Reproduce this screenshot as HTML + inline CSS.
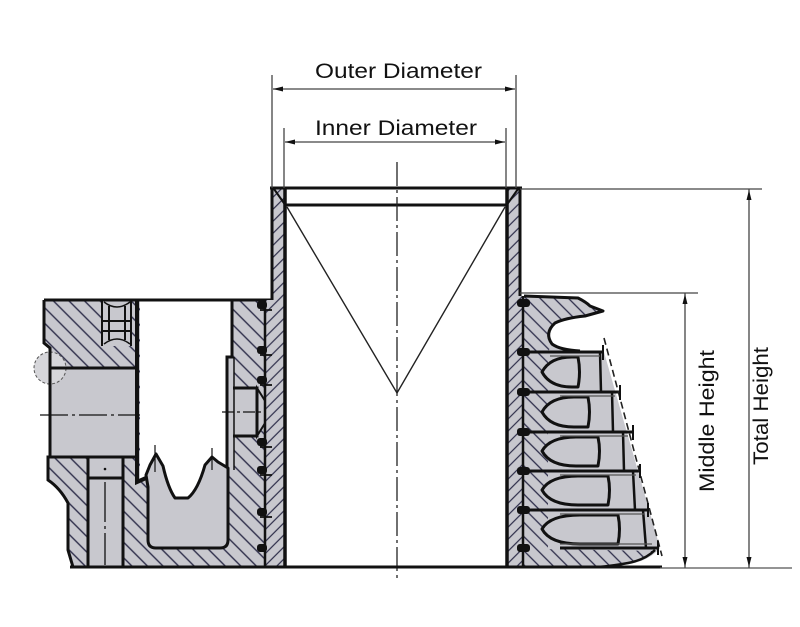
<!DOCTYPE html>
<html><head><meta charset="utf-8"><style>html,body{margin:0;padding:0;background:#fff;}svg{display:block}</style></head>
<body>
<svg width="800" height="627" viewBox="0 0 800 627" xmlns="http://www.w3.org/2000/svg">
<defs>
<pattern id="hb" patternUnits="userSpaceOnUse" width="11" height="11" patternTransform="rotate(-45)">
<rect width="11" height="11" fill="#c8c8ce"/>
<line x1="1" y1="0" x2="1" y2="11" stroke="#2e2e4a" stroke-width="1.4"/>
</pattern>
<pattern id="hr" patternUnits="userSpaceOnUse" width="10" height="10" patternTransform="rotate(-45)">
<rect width="10" height="10" fill="#c8c8ce"/>
<line x1="1" y1="0" x2="1" y2="10" stroke="#2e2e4a" stroke-width="1.3"/>
</pattern>
<pattern id="ht" patternUnits="userSpaceOnUse" width="8.5" height="8.5" patternTransform="rotate(45)">
<rect width="8.5" height="8.5" fill="#c8c8ce"/>
<line x1="1" y1="0" x2="1" y2="8.5" stroke="#2e2e4a" stroke-width="1.2"/>
</pattern>
</defs>
<rect width="800" height="627" fill="#fff"/>

<!-- ===== LEFT BODY ===== -->
<path d="M44,300 L265,300 L265,567 L73,567 L68,550 L68,503 Q60,488 48,480 L48,457 L50,457 L50,348 L44,343 Z" fill="url(#hb)"/>
<rect x="102" y="300" width="30" height="46" fill="#c8c8ce"/>
<path d="M102,300 L102,346 M131,300 L131,346 M109,306 L109,340 M125,306 L125,340 M102,321 L131,321 M102,331 L131,331" stroke="#111" stroke-width="2" fill="none"/>
<path d="M104,302 Q117,312 130,302 M104,344 Q117,334 130,344" stroke="#111" stroke-width="1.5" fill="none"/>
<rect x="50" y="368" width="87" height="89" fill="#c8c8ce"/>
<path d="M140,300 L232,300 L232,357 L227,357 L227,468 L218,462 L212,457 L205,465 Q198,490 188,498 L175,498 Q168,488 163,466 L156,454 L150,465 L146,475 L140,480 Z" fill="#fff"/>
<rect x="227" y="357" width="7" height="110" fill="#c8c8ce"/>
<path d="M146,475 L150,465 L156,454 L163,466 Q168,488 175,498 L188,498 Q198,490 205,465 L212,457 L218,462 L228,468 L228,540 Q228,548 220,548 L156,548 Q148,548 148,540 L148,487 Z" fill="#c8c8ce" stroke="#111" stroke-width="3" stroke-linejoin="round"/>
<line x1="155" y1="445" x2="155" y2="472" stroke="#111" stroke-width="1.2"/>
<line x1="212" y1="448" x2="212" y2="470" stroke="#111" stroke-width="1.2"/>
<rect x="88" y="458" width="35" height="109" fill="#c8c8ce"/>
<path d="M88,458 L88,567 M123,458 L123,567 M88,478 L123,478" stroke="#111" stroke-width="3" fill="none"/>
<line x1="105" y1="482" x2="105" y2="565" stroke="#111" stroke-width="1.3" stroke-dasharray="40 4 3 4"/>
<circle cx="105" cy="469" r="1.3" fill="#111"/>
<rect x="233" y="388" width="24" height="47" fill="#c8c8ce"/>
<path d="M257,388 L272,412 L257,436 Z" fill="#c8c8ce" stroke="#111" stroke-width="2"/>
<path d="M233,388 L257,388 L257,436 L233,436" stroke="#111" stroke-width="3" fill="none"/>
<line x1="222" y1="412" x2="262" y2="412" stroke="#111" stroke-width="1.2" stroke-dasharray="12 3 3 3"/>
<circle cx="50" cy="368" r="16" fill="#d6d6da" stroke="#555" stroke-width="1" stroke-dasharray="3 2"/>
<path d="M44,300 L272,300" stroke="#111" stroke-width="3"/>
<path d="M44,300 L44,343 L50,348 L50,457 L48,457 L48,480 Q60,488 68,503 L68,550 L73,567" stroke="#111" stroke-width="3" fill="none"/>
<path d="M50,368 L137,368 M50,457 L137,457" stroke="#111" stroke-width="3"/>
<path d="M137,300 L137,482 L146,478" stroke="#111" stroke-width="4" fill="none"/>
<path d="M232,300 L232,357 L227,357 L227,468" stroke="#111" stroke-width="3" fill="none"/>
<line x1="234" y1="357" x2="234" y2="470" stroke="#111" stroke-width="1.5"/>
<line x1="40" y1="415" x2="140" y2="415" stroke="#111" stroke-width="1.3" stroke-dasharray="28 4 3 4"/>

<!-- ===== RIGHT BODY ===== -->
<path d="M524,296 L578,298 Q586,302 590,306 L603,311 L585,316 Q565,318 555,323 Q544,333 552,344 Q560,350 580,351 L604,352 L660,548 Q650,560 630,564 Q612,567 600,567 L524,567 Z" fill="#c8c8ce"/>
<path d="M524,296 L578,298 Q586,302 590,306 L603,311 L585,316 Q565,318 555,323 Q544,333 552,344 L548,352 L548,567 L524,567 Z" fill="url(#hr)"/>
<path d="M540,549 L655,551 Q640,562 620,565 L600,567 L540,567 Z" fill="url(#hr)"/>
<path d="M524,296 L578,298 Q586,302 590,306 L603,311 L585,316 Q565,318 555,323 Q544,333 552,344 Q560,350 580,351" stroke="#111" stroke-width="3" fill="none" stroke-linejoin="round"/>
<path d="M655,550 Q645,560 628,563 Q612,566 598,567" stroke="#111" stroke-width="2.5" fill="none"/>
<g fill="#c8c8ce" stroke="#111" stroke-width="3" stroke-linejoin="round">
<path d="M578,357 L572,357 Q550,357 542,372 Q550,387 572,387 L578,387 Q581,372 578,357 Z"/>
<path d="M588,397 L574,397 Q550,397 542,412 Q550,427 574,427 L588,427 Q591,412 588,397 Z"/>
<path d="M598,437 L576,437 Q550,437 542,451 Q550,466 576,466 L598,466 Q601,451 598,437 Z"/>
<path d="M608,476 L578,476 Q550,476 542,490 Q550,505 578,505 L608,505 Q611,490 608,476 Z"/>
<path d="M618,515 L580,515 Q550,515 542,529 Q550,544 580,544 L618,544 Q621,529 618,515 Z"/>
</g>
<path d="M600,352 L601,392 M612,392 L613,432 M623,432 L624,471 M633,471 L635,510 M643,510 L646,548" stroke="#111" stroke-width="2.5" fill="none"/>
<g stroke="#111" stroke-width="3">
<line x1="528" y1="352" x2="604" y2="352"/>
<line x1="528" y1="392" x2="620" y2="392"/>
<line x1="528" y1="432" x2="633" y2="432"/>
<line x1="528" y1="471" x2="640" y2="471"/>
<line x1="528" y1="510" x2="648" y2="510"/>
<line x1="560" y1="548" x2="658" y2="548"/>
</g>
<g stroke="#555" stroke-width="1.2">
<line x1="550" y1="356" x2="600" y2="356"/>
<line x1="560" y1="396" x2="615" y2="396"/>
<line x1="560" y1="436" x2="628" y2="436"/>
<line x1="560" y1="475" x2="636" y2="475"/>
<line x1="560" y1="514" x2="644" y2="514"/>
<line x1="560" y1="544" x2="652" y2="544"/>
</g>
<path d="M604,338 L662,556" stroke="#222" stroke-width="1.6" stroke-dasharray="7 4" fill="none"/>
<path d="M603,345 L603,360 M620,385 L620,400 M633,425 L633,440 M640,464 L640,478 M648,503 L648,517 M658,541 L658,555" stroke="#111" stroke-width="2"/>

<!-- ===== TUBE WALLS ===== -->
<path d="M272,188 L285,188 L285,567 L265,567 L265,300 L272,300 Z" fill="url(#ht)"/>
<path d="M507,188 L520,188 L520,296 L524,296 L524,567 L507,567 Z" fill="url(#ht)"/>
<rect x="286" y="190" width="220" height="376" fill="#fff"/>
<path d="M272,188 L272,300" stroke="#111" stroke-width="3"/>
<path d="M285,188 L285,567" stroke="#111" stroke-width="3.5"/>
<path d="M507,188 L507,567" stroke="#111" stroke-width="3.5"/>
<path d="M520,188 L520,296" stroke="#111" stroke-width="3"/>
<path d="M265,300 L265,567" stroke="#111" stroke-width="2.5"/>
<path d="M523,296 L523,567" stroke="#111" stroke-width="2.5"/>
<g fill="#111">
<rect x="257" y="301" width="10" height="8" rx="3"/>
<rect x="257" y="346" width="10" height="8" rx="3"/>
<rect x="257" y="376" width="10" height="8" rx="3"/>
<rect x="257" y="438" width="10" height="8" rx="3"/>
<rect x="257" y="466" width="10" height="8" rx="3"/>
<rect x="257" y="508" width="10" height="8" rx="3"/>
<rect x="257" y="544" width="10" height="8" rx="3"/>
</g>
<g stroke="#111" stroke-width="1.8">
<line x1="260" y1="310" x2="272" y2="310"/>
<line x1="260" y1="355" x2="272" y2="355"/>
<line x1="260" y1="385" x2="272" y2="385"/>
<line x1="260" y1="447" x2="272" y2="447"/>
<line x1="260" y1="475" x2="272" y2="475"/>
<line x1="260" y1="517" x2="272" y2="517"/>
</g>
<g fill="#111">
<rect x="517" y="299" width="13" height="8" rx="3"/>
<rect x="517" y="348" width="13" height="8" rx="3"/>
<rect x="517" y="388" width="13" height="8" rx="3"/>
<rect x="517" y="428" width="13" height="8" rx="3"/>
<rect x="517" y="467" width="13" height="8" rx="3"/>
<rect x="517" y="506" width="13" height="8" rx="3"/>
<rect x="517" y="544" width="13" height="8" rx="3"/>
</g>

<line x1="270" y1="188" x2="522" y2="188" stroke="#111" stroke-width="3"/>
<line x1="285" y1="205" x2="507" y2="205" stroke="#111" stroke-width="3"/>
<path d="M274,189 L286,206 M518,189 L506,206" stroke="#111" stroke-width="2"/>
<path d="M287,207 L397,393 L505,207" stroke="#222" stroke-width="1.4" fill="none"/>
<line x1="397" y1="162" x2="397" y2="580" stroke="#222" stroke-width="1.3" stroke-dasharray="24 4 3 4"/>

<line x1="70" y1="567" x2="662" y2="567" stroke="#111" stroke-width="3"/>
<line x1="660" y1="568" x2="792" y2="568" stroke="#555" stroke-width="1.3"/>

<!-- ===== DIMENSIONS ===== -->
<g stroke="#444" stroke-width="1.3" fill="none">
<line x1="272" y1="75" x2="272" y2="188"/>
<line x1="516" y1="75" x2="516" y2="188"/>
<line x1="273" y1="89" x2="515" y2="89"/>
<line x1="284" y1="128" x2="284" y2="188"/>
<line x1="506" y1="128" x2="506" y2="188"/>
<line x1="285" y1="142" x2="505" y2="142"/>
<line x1="520" y1="189" x2="762" y2="189"/>
<line x1="520" y1="293" x2="698" y2="293"/>
<line x1="685" y1="293" x2="685" y2="568"/>
<line x1="749" y1="189" x2="749" y2="568"/>
</g>
<g fill="#111">
<polygon points="273,89 283,86.5 283,91.5"/>
<polygon points="515,89 505,86.5 505,91.5"/>
<polygon points="285,142 295,139.5 295,144.5"/>
<polygon points="505,142 495,139.5 495,144.5"/>
<polygon points="685,294 682.5,304 687.5,304"/>
<polygon points="685,567 682.5,557 687.5,557"/>
<polygon points="749,190 746.5,200 751.5,200"/>
<polygon points="749,567 746.5,557 751.5,557"/>
</g>
<g font-family="Liberation Sans, Arial, sans-serif" font-size="21" fill="#111">
<text x="315" y="78" textLength="167" lengthAdjust="spacingAndGlyphs">Outer  Diameter</text>
<text x="315" y="135" textLength="162" lengthAdjust="spacingAndGlyphs">Inner  Diameter</text>
<text transform="translate(714,421) rotate(-90)" text-anchor="middle" textLength="142" lengthAdjust="spacingAndGlyphs">Middle Height</text>
<text transform="translate(768,406) rotate(-90)" text-anchor="middle" textLength="118" lengthAdjust="spacingAndGlyphs">Total Height</text>
</g>
</svg>
</body></html>
